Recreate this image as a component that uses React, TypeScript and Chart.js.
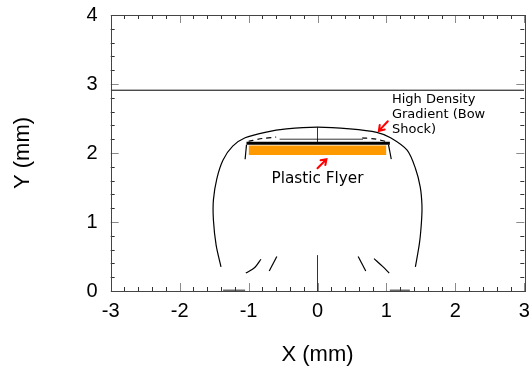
import React, { useEffect, useRef } from "react";
import { Chart, registerables } from "chart.js";

Chart.register(...registerables);

// ---- Data (mm) ----
const xTickValues = [-3, -2, -1, 0, 1, 2, 3];
const yTickValues = [0, 1, 2, 3, 4];

const bowShockX = [-1.40, -1.47, -1.51, -1.51, -1.46, -1.37, -1.23, -1.05, -0.76, -0.45, 0, 0.47, 0.86, 1.06, 1.30, 1.42, 1.49, 1.515, 1.51, 1.48, 1.42];
const bowShockY = [0.35, 0.66, 1.03, 1.32, 1.63, 1.90, 2.10, 2.22, 2.30, 2.35, 2.375, 2.35, 2.30, 2.22, 2.04, 1.78, 1.51, 1.25, 1.03, 0.70, 0.35];

const upperLineX = [-3, 3];
const upperLineY = [2.91, 2.91];

const flyerX = [-1.0, 1.0];
const flyerTopY = [2.11, 2.11];
const flyerBottomY = [1.97, 1.97];

const flyerFaceX = [-1.03, 1.05];
const flyerFaceY = [2.14, 2.14];

const leftEdgeX = [-1.03, -1.05];
const leftEdgeY = [2.12, 1.91];
const rightEdgeX = [1.03, 1.07];
const rightEdgeY = [2.12, 1.91];

const innerLineX = [-0.55, 0.66];
const innerLineY = [2.20, 2.20];

const dashLeftX = [-1.0, -0.8, -0.6];
const dashLeftY = [2.17, 2.21, 2.23];
const dashRightX = [0.65, 0.85, 1.02];
const dashRightY = [2.22, 2.2, 2.16];

const axisTopX = [0, 0];
const axisTopY = [2.14, 2.375];
const axisBottomX = [0, 0];
const axisBottomY = [0, 0.52];

const strandLOX = [-1.04, -0.91, -0.82];
const strandLOY = [0.26, 0.34, 0.46];
const strandLIX = [-0.70, -0.59];
const strandLIY = [0.29, 0.50];
const strandRIX = [0.59, 0.70];
const strandRIY = [0.50, 0.29];
const strandROX = [0.82, 0.94, 1.04];
const strandROY = [0.47, 0.36, 0.26];

const baseLX = [-1.37, -1.05];
const baseLY = [0.012, 0.012];
const baseRX = [1.05, 1.34];
const baseRY = [0.012, 0.012];

// annotations (data coordinates)
const bowShockLabel = ["High Density", "Gradient (Bow", "Shock)"];
const bowShockLabelX = 1.08;
const bowShockLabelY = [2.72, 2.505, 2.29];
const flyerLabel = "Plastic Flyer";
const flyerLabelX = 0.0;
const flyerLabelY = 1.56;
const arrows = [
  { tail: [1.02, 2.46], head: [0.89, 2.32] },
  { tail: [0.0, 1.78], head: [0.13, 1.91] },
];

const pts = (xs: number[], ys: number[]) => xs.map((x, i) => ({ x, y: ys[i] }));

const line = (xs: number[], ys: number[], extra: any = {}) => ({
  data: pts(xs, ys),
  showLine: true,
  pointRadius: 0,
  borderColor: "#000",
  borderWidth: 1.2,
  backgroundColor: "#000",
  fill: false,
  ...extra,
});

const framePlugin = {
  id: "frameTicks",
  afterDatasetsDraw(chart: any) {
    const { ctx, chartArea: a, scales } = chart;
    const xs = scales.x;
    const ys = scales.y;
    ctx.save();
    const tick = (x1: number, y1: number, x2: number, y2: number, major: boolean) => {
      ctx.strokeStyle = major ? "#8a8a8a" : "#333";
      ctx.lineWidth = 1;
      ctx.beginPath();
      ctx.moveTo(x1, y1);
      ctx.lineTo(x2, y2);
      ctx.stroke();
    };
    for (let i = 0; i <= 30; i++) {
      const v = -3 + i * 0.2;
      const major = i % 5 === 0;
      const len = major ? 8 : 4;
      const px = Math.round(xs.getPixelForValue(v)) + 0.5;
      tick(px, a.bottom, px, a.bottom - len, major);
      tick(px, a.top, px, a.top + len, major);
    }
    for (let i = 0; i <= 20; i++) {
      const v = i * 0.2;
      const major = i % 5 === 0;
      const len = major ? 8 : 4;
      const py = Math.round(ys.getPixelForValue(v)) + 0.5;
      tick(a.left, py, a.left + len, py, major);
      tick(a.right, py, a.right - len, py, major);
    }
    ctx.strokeStyle = "#444";
    ctx.lineWidth = 1;
    ctx.strokeRect(Math.round(a.left) + 0.5, Math.round(a.top) + 0.5, Math.round(a.right - a.left), Math.round(a.bottom - a.top));

    // annotations
    ctx.fillStyle = "#000";
    ctx.textBaseline = "alphabetic";
    ctx.textAlign = "left";
    ctx.font = "13px 'DejaVu Sans'";
    bowShockLabel.forEach((t, i) => {
      ctx.fillText(t, xs.getPixelForValue(bowShockLabelX), ys.getPixelForValue(bowShockLabelY[i]));
    });
    ctx.textAlign = "center";
    ctx.font = "15.3px 'DejaVu Sans'";
    ctx.fillText(flyerLabel, xs.getPixelForValue(flyerLabelX), ys.getPixelForValue(flyerLabelY));

    ctx.strokeStyle = "#ff0000";
    ctx.lineWidth = 2;
    ctx.lineCap = "round";
    arrows.forEach(({ tail, head }) => {
      const tx = xs.getPixelForValue(tail[0]);
      const ty = ys.getPixelForValue(tail[1]);
      const hx = xs.getPixelForValue(head[0]);
      const hy = ys.getPixelForValue(head[1]);
      const ang = Math.atan2(hy - ty, hx - tx);
      const wl = 6;
      ctx.beginPath();
      ctx.moveTo(tx, ty);
      ctx.lineTo(hx, hy);
      ctx.moveTo(hx - wl * Math.cos(ang - 0.6), hy - wl * Math.sin(ang - 0.6));
      ctx.lineTo(hx, hy);
      ctx.lineTo(hx - wl * Math.cos(ang + 0.6), hy - wl * Math.sin(ang + 0.6));
      ctx.stroke();
    });
    ctx.restore();
  },
};

const axisFont = "'Liberation Sans', Arial, sans-serif";

export default function App() {
  const ref = useRef<HTMLCanvasElement | null>(null);
  useEffect(() => {
    document.body.style.margin = "0";
    if (!ref.current) return;
    const chart = new Chart(ref.current, {
      type: "scatter",
      data: {
        datasets: [
          line(flyerX, flyerTopY, { borderWidth: 0, backgroundColor: "#ff9900", fill: "+1" }),
          line(flyerX, flyerBottomY, { borderWidth: 0 }),
          line(bowShockX, bowShockY, { tension: 0.3 }),
          line(upperLineX, upperLineY, { borderWidth: 1 }),
          line(flyerFaceX, flyerFaceY, { borderWidth: 3 }),
          line(leftEdgeX, leftEdgeY),
          line(rightEdgeX, rightEdgeY),
          line(innerLineX, innerLineY, { borderWidth: 0.8 }),
          line(dashLeftX, dashLeftY, { borderDash: [5, 4], tension: 0.3 }),
          line(dashRightX, dashRightY, { borderDash: [5, 4], tension: 0.3 }),
          line(axisTopX, axisTopY, { borderWidth: 0.8 }),
          line(axisBottomX, axisBottomY, { borderWidth: 0.8 }),
          line(strandLOX, strandLOY, { tension: 0.3 }),
          line(strandLIX, strandLIY),
          line(strandRIX, strandRIY),
          line(strandROX, strandROY, { tension: 0.3 }),
          line(baseLX, baseLY, { borderWidth: 1, borderColor: "#222" }),
          line(baseRX, baseRY, { borderWidth: 1, borderColor: "#222" }),
        ],
      },
      options: {
        responsive: false,
        animation: false,
        devicePixelRatio: 1,
        layout: { padding: { top: 15, right: 7.7, left: 0, bottom: 0 } },
        plugins: { legend: { display: false }, tooltip: { enabled: false } },
        scales: {
          x: {
            type: "linear",
            min: -3,
            max: 3,
            grid: { display: false, drawTicks: false, tickLength: 0 },
            border: { display: false },
            afterBuildTicks: (s: any) => { s.ticks = xTickValues.map((v) => ({ value: v })); },
            afterFit: (s: any) => { s.height = 82; s.paddingLeft = 0; s.paddingRight = 0; },
            ticks: { color: "#000", padding: 8, maxRotation: 0, font: { family: axisFont, size: 20 } },
            title: { display: true, text: "X (mm)", color: "#000", padding: { top: 0, bottom: 5 }, font: { family: axisFont, size: 22 } },
          },
          y: {
            type: "linear",
            min: 0,
            max: 4,
            grid: { display: false, drawTicks: false, tickLength: 0 },
            border: { display: false },
            afterBuildTicks: (s: any) => { s.ticks = yTickValues.map((v) => ({ value: v })); },
            afterFit: (s: any) => { s.width = 110.7; s.paddingTop = 0; s.paddingBottom = 0; },
            ticks: { color: "#000", padding: 13, font: { family: axisFont, size: 20 } },
            title: { display: true, text: "Y (mm)", color: "#000", padding: { top: 10, bottom: 0 }, font: { family: axisFont, size: 22 } },
          },
        },
      },
      plugins: [framePlugin],
    } as any);
    return () => chart.destroy();
  }, []);
  return (
    <div style={{ width: 532, height: 373 }}>
      <canvas ref={ref} width={532} height={373} />
    </div>
  );
}
